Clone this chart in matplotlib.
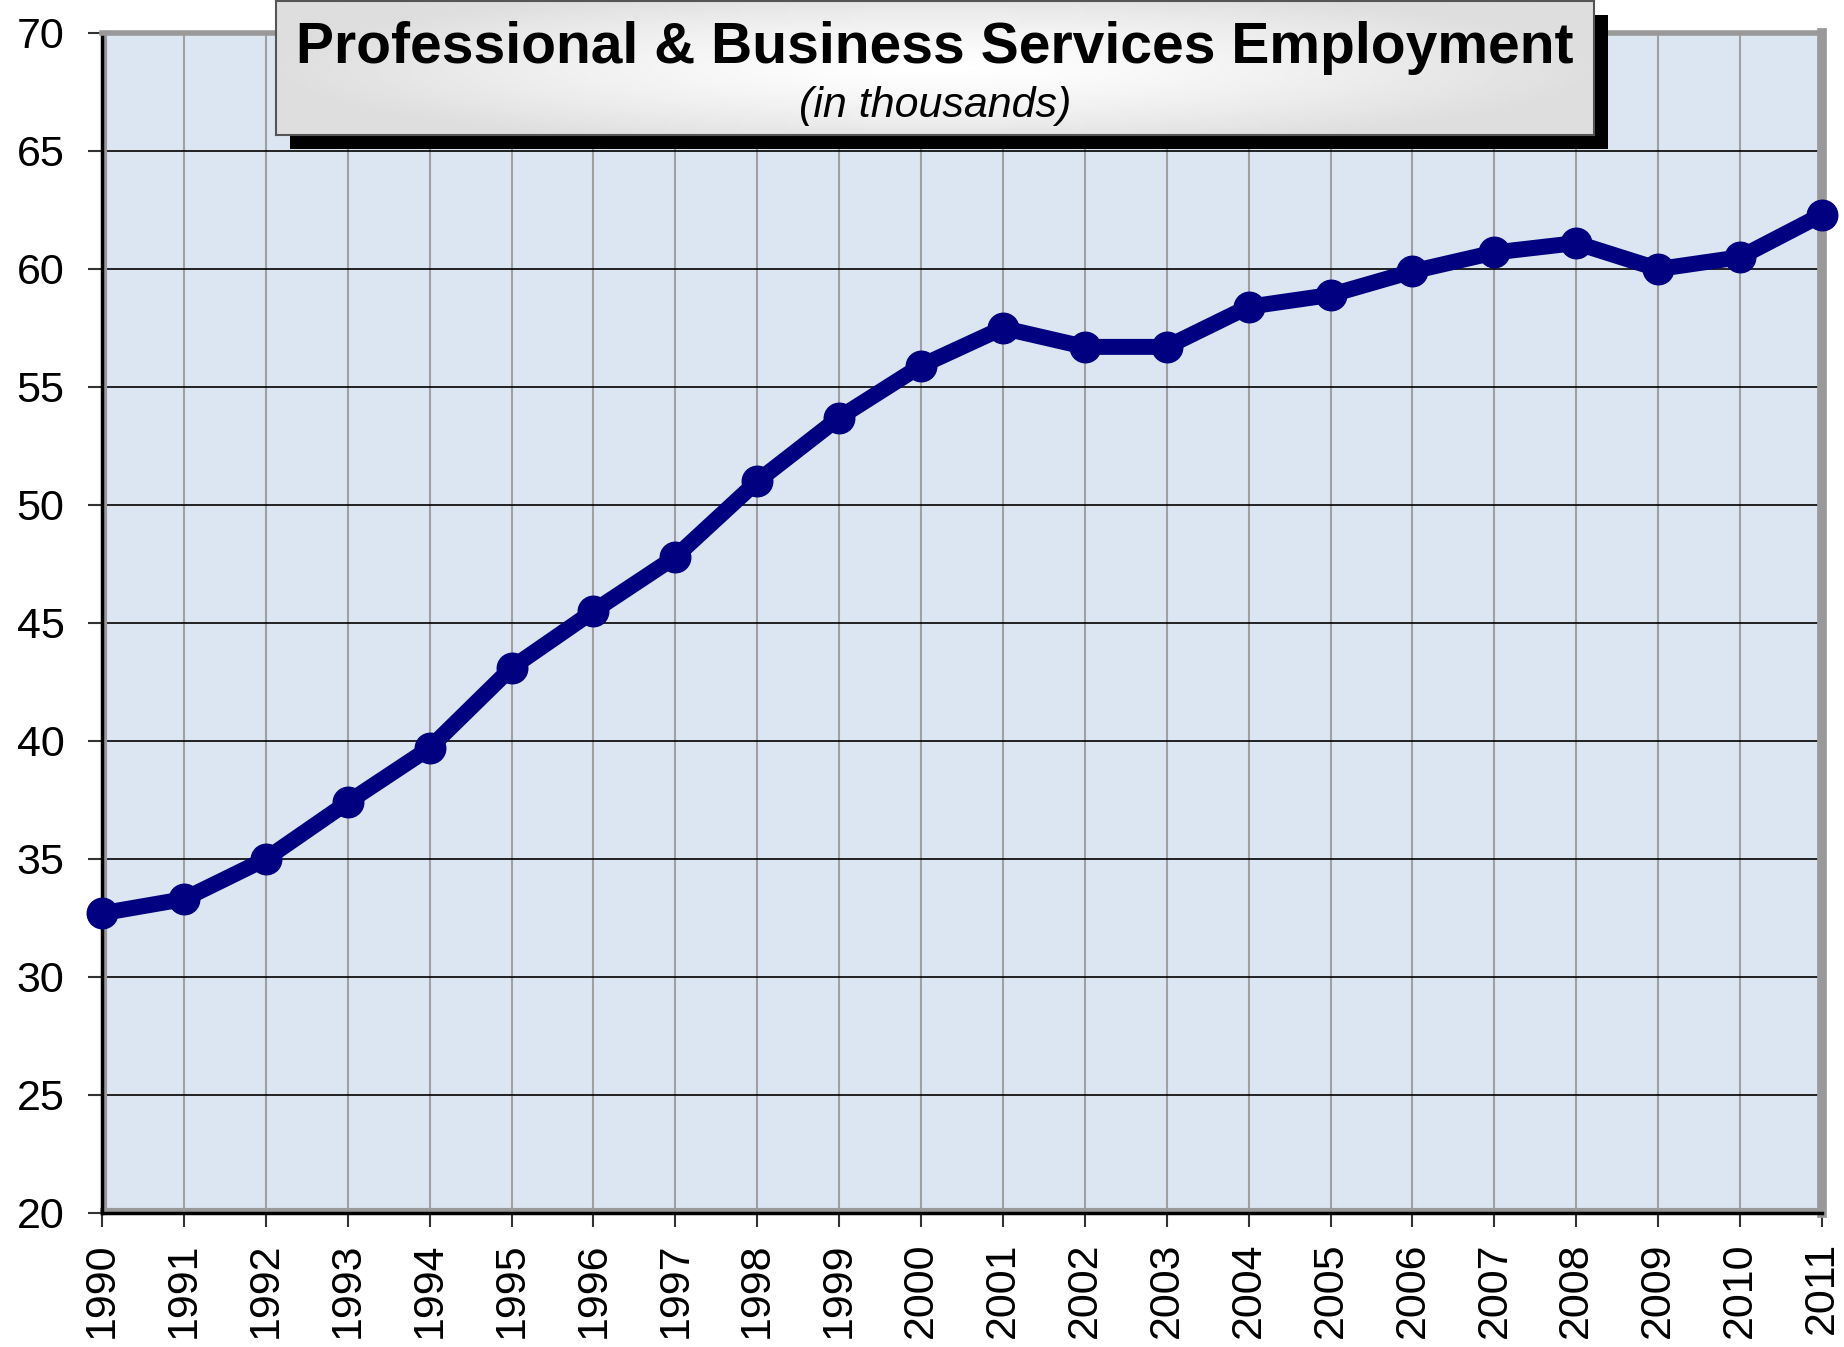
import numpy as np
import matplotlib.pyplot as plt
from matplotlib.patches import Rectangle
from matplotlib.transforms import ScaledTranslation

plt.rcParams['font.family'] = ['Liberation Sans', 'DejaVu Sans']

# data
years = [1990, 1991, 1992, 1993, 1994, 1995, 1996, 1997, 1998, 1999, 2000,
         2001, 2002, 2003, 2004, 2005, 2006, 2007, 2008, 2009, 2010, 2011]
employment = [32.7, 33.3, 35.0, 37.4, 39.7, 43.1, 45.5, 47.8, 51.0, 53.7, 55.9,
              57.5, 56.7, 56.7, 58.4, 58.9, 59.9, 60.7, 61.1, 60.0, 60.5, 62.3]
y_ticks = [20, 25, 30, 35, 40, 45, 50, 55, 60, 65, 70]
title = "Professional & Business Services Employment"
subtitle = "(in thousands)"

W, H = 1844, 1347
fig = plt.figure(figsize=(W / 100, H / 100), dpi=100)

# plot area
L, R, B, T = 102, 1822, 1213, 33
ax = fig.add_axes([L / W, 1 - B / H, (R - L) / W, (B - T) / H])
ax.set_facecolor('#dce6f2')
ax.set_xlim(years[0], years[-1])
ax.set_ylim(20, 70)
ax.set_xticks(years)
ax.set_xticklabels([str(y) for y in years], rotation=90)
ax.set_yticks(y_ticks)
ax.tick_params(axis='both', labelsize=31, length=10, width=1.5, color='#333333')
ax.tick_params(axis='y', pad=17)
ax.tick_params(axis='x', pad=11)

ax.grid(axis='x', color='#a0a0a0', linewidth=1.5, zorder=1)
ax.grid(axis='y', color='#000000', linewidth=1.2, zorder=1)
ax.set_axisbelow(True)

# 3d-ish border
for s in ['top', 'right']:
    ax.spines[s].set_color('#999999')
ax.spines['top'].set_linewidth(4)
ax.spines['right'].set_linewidth(7)
for s in ['left', 'bottom']:
    ax.spines[s].set_color('#000000')
    ax.spines[s].set_linewidth(2.5)
ax.plot([years[0], years[0]], [20, 70], color='#999999', lw=3,
        transform=ax.transData + ScaledTranslation(3 / 100, 0, fig.dpi_scale_trans),
        zorder=2, clip_on=False)
ax.plot([years[0], years[-1]], [20, 20], color='#999999', lw=3,
        transform=ax.transData + ScaledTranslation(0, 3 / 100, fig.dpi_scale_trans),
        zorder=2, clip_on=False)

ax.plot(years, employment, color='#000080', linewidth=11.5, marker='o',
        markersize=22, solid_joinstyle='round', solid_capstyle='round',
        zorder=5, clip_on=False)

# title box with shadow
bx0, bx1, by0, by1 = 276, 1594, 135, 1
off = 14
fig.patches.append(Rectangle(((bx0 + off) / W, 1 - (by0 + off) / H),
                             (bx1 - bx0) / W, (by0 - by1) / H,
                             transform=fig.transFigure, facecolor='black',
                             edgecolor='none', zorder=3))
tax = fig.add_axes([bx0 / W, 1 - by0 / H, (bx1 - bx0) / W, (by0 - by1) / H], zorder=4)
gx = np.linspace(-1, 1, 300)
gy = np.linspace(-1, 1, 60)
gxx, gyy = np.meshgrid(gx, gy)
rr = np.clip(np.sqrt(gxx ** 2 + (gyy * 0.8) ** 2), 0, 1)
shade = 1.0 - 0.13 * rr ** 1.3
tax.imshow(shade, cmap='gray', vmin=0, vmax=1, aspect='auto',
           extent=[0, 1, 0, 1])
tax.set_xticks([])
tax.set_yticks([])
for s in tax.spines.values():
    s.set_color('#555555')
    s.set_linewidth(1.5)
tax.text(0.5, 0.537, title, ha='center', va='baseline', fontsize=41,
         fontweight='bold', transform=tax.transAxes)
tax.text(0.5, 0.134, subtitle, ha='center', va='baseline', fontsize=31,
         style='italic', transform=tax.transAxes)

fig.savefig('out.png', dpi=100)
